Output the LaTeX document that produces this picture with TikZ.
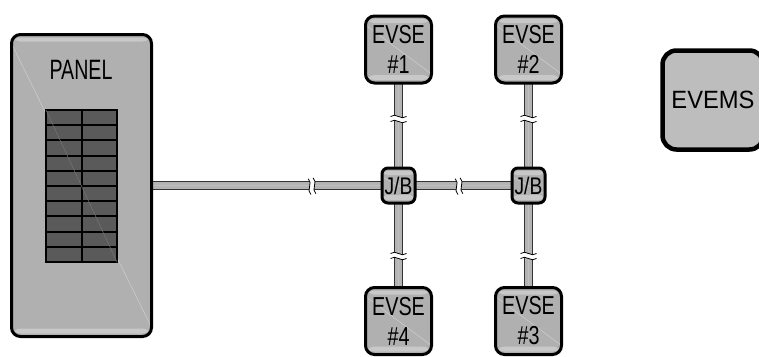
\documentclass[tikz,border=0pt]{standalone}
\usepackage{graphicx}
\usepackage{fontspec}
\setmainfont{Liberation Sans}
\pgfdeclarelayer{bg}
\pgfsetlayers{bg,main}
\definecolor{boxgray}{HTML}{B0B0B0}
\definecolor{bandgray}{HTML}{C8C8C8}
\definecolor{diaggray}{HTML}{CFCFCF}
\definecolor{cellgray}{HTML}{5A5A5A}
\definecolor{griddiag}{HTML}{757575}
\definecolor{wiregray}{HTML}{B4B4B4}
\definecolor{wirelight}{HTML}{C0C0C0}
\definecolor{emsgray}{HTML}{BDBDBD}
\newcommand{\sq}[2]{\scalebox{#1}[1]{#2}}
\tikzset{
  x=1pt,y=-1pt,
  box/.style={draw=black,line width=3pt,rounded corners=9pt,fill=boxgray,inner sep=0pt,outer sep=0pt,text=black,
    path picture={
      \fill[bandgray] ([yshift=-3pt]path picture bounding box.north west) rectangle ([yshift=-7pt]path picture bounding box.north east);
      \fill[bandgray] ([yshift=8pt]path picture bounding box.south west) rectangle ([yshift=3pt]path picture bounding box.south east);
      \draw[diaggray,line width=.5pt] ([yshift=-9pt]path picture bounding box.north west) -- ([yshift=9pt]path picture bounding box.south east);
    }},
  evse/.style={box,minimum width=66pt,minimum height=67pt,align=center,font=\fontsize{26}{30}\selectfont},
  jb/.style={box,minimum width=33pt,minimum height=35pt,rounded corners=6pt,font=\fontsize{24}{24}\selectfont},
  ems/.style={draw=black,line width=4.5pt,rounded corners=14pt,fill=emsgray,inner sep=0pt,outer sep=0pt,minimum width=101pt,minimum height=99pt,font=\fontsize{25}{28}\selectfont},
  wire/.style={draw=black!80,line width=9.5pt,postaction={draw=wiregray,line width=7.6pt},postaction={draw=wirelight,line width=1pt}},
  cell/.style={draw=black,line width=2pt,fill=cellgray},
  brk/.pic={
    \fill[white] (-8,-3.5) .. controls (-3,-8) and (3,1) .. (8,-3.5) -- (8,1.5) .. controls (3,6) and (-3,-3) .. (-8,1.5) -- cycle;
    \draw[black,line width=.8pt] (-8,-3.5) .. controls (-3,-8) and (3,1) .. (8,-3.5);
    \draw[black,line width=.8pt] (-8,1.5) .. controls (-3,-3) and (3,6) .. (8,1.5);
  }
}
\begin{document}
\begin{tikzpicture}
\useasboundingbox (0,0) rectangle (759,356);
\node[box,minimum width=140pt,minimum height=302pt] (panel) at (81.5,185.5) {};
\node[font=\fontsize{28}{30}\selectfont] (paneltext) at (81,70) {\sq{.7}{PANEL}};
\foreach \r in {0,...,9}{
  \draw[cell] (46,{110+\r*15.2}) rectangle (81.5,{110+(\r+1)*15.2});
  \draw[cell] (81.5,{110+\r*15.2}) rectangle (117,{110+(\r+1)*15.2});
}
\coordinate (gnw) at (46,110);
\coordinate (gse) at (117,262);
\draw[griddiag,line width=.5pt] (gnw) -- (gse);
\node[evse] (e1) at (398.5,49.5) {\sq{.76}{EVSE}\\\sq{.76}{\#1}};
\node[evse] (e2) at (528.5,49.5) {\sq{.76}{EVSE}\\\sq{.76}{\#2}};
\node[evse] (e4) at (398.5,321) {\sq{.76}{EVSE}\\\sq{.76}{\#4}};
\node[evse] (e3) at (528.5,321) {\sq{.76}{EVSE}\\\sq{.76}{\#3}};
\node[jb] (j1) at (398.5,185.5) {\sq{.8}{J/B}};
\node[jb] (j2) at (528.5,185.5) {\sq{.8}{J/B}};
\node[ems] (ems) at (713,100) {\sq{.95}{EVEMS}};
\begin{pgfonlayer}{bg}
\path[wire] (panel) -- (j1);
\path[wire] (j1) -- (j2);
\path[wire] (e1) -- (j1);
\path[wire] (e2) -- (j2);
\path[wire] (j1) -- (e4);
\path[wire] (j2) -- (e3);
\end{pgfonlayer}
\coordinate (b1) at (313,186);
\coordinate (b2) at (460,186);
\coordinate (b3) at (398.5,120);
\coordinate (b4) at (528.5,120);
\coordinate (b5) at (398.5,257);
\coordinate (b6) at (528.5,257);
\pic[rotate=100] at (b1) {brk};
\pic[rotate=100] at (b2) {brk};
\pic at (b3) {brk};
\pic at (b4) {brk};
\pic at (b5) {brk};
\pic at (b6) {brk};
\end{tikzpicture}
\end{document}
